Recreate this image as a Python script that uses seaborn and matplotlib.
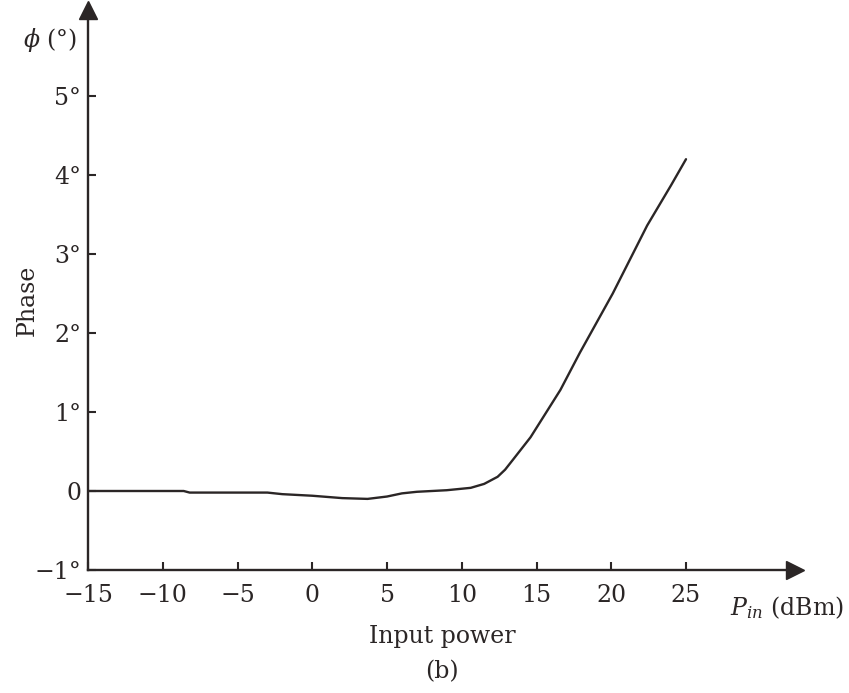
import numpy as np
import pandas as pd
import seaborn as sns
import matplotlib.pyplot as plt

sns.set_style('ticks')
plt.rcParams['font.family'] = ['DejaVu Serif']
plt.rcParams['mathtext.fontset'] = 'dejavuserif'
plt.rcParams['xtick.direction'] = 'in'
plt.rcParams['ytick.direction'] = 'in'

# Phase vs input power.
pin_dbm = [-15, -10, -8.6, -8.2, -5, -3, -2, 0, 2, 3.7, 5, 6, 7, 9, 10.6,
           11.5, 12.4, 12.9, 13.4, 14.6, 15.6, 16.6, 17.9, 20.1, 22.4, 24, 25]
phase_deg = [0, 0, 0, -0.02, -0.02, -0.02, -0.04, -0.06, -0.09, -0.1, -0.07,
             -0.03, -0.01, 0.01, 0.04, 0.09, 0.18, 0.27, 0.39, 0.68, 0.98,
             1.28, 1.75, 2.5, 3.36, 3.87, 4.2]

x_ticks = [-15, -10, -5, 0, 5, 10, 15, 20, 25]
x_labels = ['\u221215', '\u221210', '\u22125', '0', '5', '10', '15', '20', '25']
y_ticks = [-1, 0, 1, 2, 3, 4, 5]
y_labels = ['\u22121\u00b0', '0', '1\u00b0', '2\u00b0', '3\u00b0', '4\u00b0', '5\u00b0']

df = pd.DataFrame({'pin': pin_dbm, 'phase': phase_deg})

W, H = 849, 693
fig = plt.figure(figsize=(W / 100, H / 100), dpi=100)
ax = fig.add_axes([88 / W, (H - 570) / H, (795 - 88) / W, (570 - 10) / H])

ink = '#2b2626'
sns.lineplot(data=df, x='pin', y='phase', ax=ax, color=ink, linewidth=1.7)

ax.set_xlim(-15, -15 + (795 - 88) / 14.95)
ax.set_ylim(-1, -1 + 560 / 79)
ax.set_xticks(x_ticks)
ax.set_xticklabels(x_labels)
ax.set_yticks(y_ticks)
ax.set_yticklabels(y_labels)
ax.tick_params(direction='in', length=6, width=1.5, colors=ink, labelsize=17,
               labelcolor=ink)
ax.tick_params(axis='x', pad=10)
ax.tick_params(axis='y', pad=5)
ax.set_xlabel('')
ax.set_ylabel('')
sns.despine(ax=ax)
for side in ['left', 'bottom']:
    ax.spines[side].set_linewidth(1.7)
    ax.spines[side].set_color(ink)

# arrow heads at the axis ends
ax.plot(1, 0, '>', ms=13, color=ink, transform=ax.transAxes, clip_on=False)
ax.plot(0, 1, '^', ms=13, color=ink, transform=ax.transAxes, clip_on=False)

fig.text(50 / W, 1 - 40 / H, '$\\phi$ (\u00b0)', fontsize=17, color=ink,
         ha='center', va='center')
fig.text(27 / W, 1 - 300 / H, 'Phase', fontsize=17, color=ink,
         rotation=90, ha='center', va='center')
fig.text(787 / W, 1 - 608 / H, '$P_{in}$ (dBm)', fontsize=17, color=ink,
         ha='center', va='center')
fig.text(442 / W, 1 - 636 / H, 'Input power', fontsize=17, color=ink,
         ha='center', va='center')
fig.text(442 / W, 1 - 672 / H, '(b)', fontsize=17, color=ink,
         ha='center', va='center')

fig.savefig('out.png', dpi=100)
